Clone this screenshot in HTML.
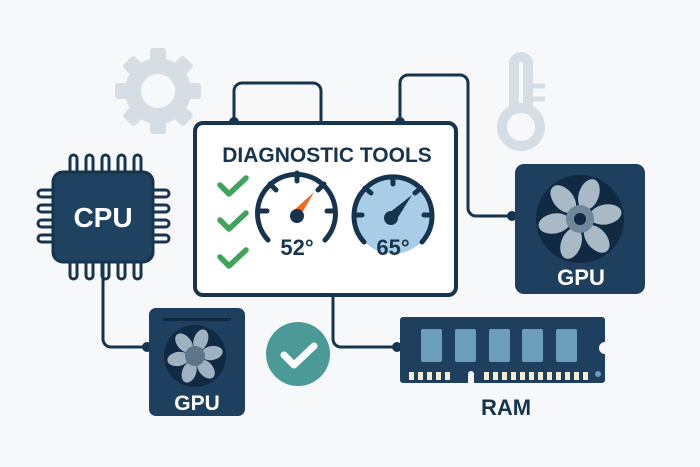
<!DOCTYPE html>
<html><head><meta charset="utf-8"><style>
html,body{margin:0;padding:0;background:#f7f8fa;}
svg{display:block;}
text{font-family:"Liberation Sans",sans-serif;font-weight:bold;}
</style></head><body>
<svg width="700" height="467" viewBox="0 0 700 467" xmlns="http://www.w3.org/2000/svg">
<rect width="700" height="467" fill="#f7f8fa"/>
<!-- gear -->
<g fill="#d6dee5" transform="translate(158,91)">
  <g id="t"><rect x="-8" y="-43" width="16" height="18" rx="3"/></g>
  <use href="#t" transform="rotate(45)"/><use href="#t" transform="rotate(90)"/><use href="#t" transform="rotate(135)"/>
  <use href="#t" transform="rotate(180)"/><use href="#t" transform="rotate(225)"/><use href="#t" transform="rotate(270)"/><use href="#t" transform="rotate(315)"/>
  <circle r="33"/>
  <circle r="17" fill="#f7f8fa"/>
</g>
<!-- thermometer -->
<g fill="none" stroke="#d6dee5" stroke-width="10">
  <path d="M514 110 V64 a7 7 0 0 1 14 0 V110"/>
  <circle cx="521" cy="127" r="19"/>
</g>
<g stroke="#d6dee5" stroke-width="5"><line x1="532" y1="86" x2="545" y2="86"/><line x1="532" y1="99" x2="545" y2="99"/></g>
<!-- wires -->
<g fill="none" stroke="#17344f" stroke-width="3">
  <path d="M234 124 V91 a8 8 0 0 1 8 -8 H313 a8 8 0 0 1 8 8 V124"/>
  <path d="M400 124 V83 a8 8 0 0 1 8 -8 H460 a8 8 0 0 1 8 8 V208 a8 8 0 0 0 8 8 H515"/>
  <path d="M333 296 V339 a8 8 0 0 0 8 8 H400"/>
  <path d="M103 262 V339 a8 8 0 0 0 8 8 H150"/>
</g>
<g fill="#17344f"><circle cx="234" cy="122" r="5"/><circle cx="400" cy="122" r="5"/><circle cx="512" cy="216" r="5"/><circle cx="397" cy="347" r="5"/><circle cx="147" cy="347" r="5"/></g>
<!-- panel -->
<rect x="195" y="123" width="261" height="172" rx="8" fill="#fff" stroke="#17344f" stroke-width="4"/>
<text x="327" y="162" font-size="21" fill="#17344f" text-anchor="middle">DIAGNOSTIC TOOLS</text>
<g fill="none" stroke="#3fa35a" stroke-width="5.5" stroke-linecap="round" stroke-linejoin="round">
  <path d="M220 185 l9 9 l17 -16"/><path d="M220 220 l9 9 l17 -16"/><path d="M220 257 l9 9 l17 -16"/>
</g>
<!-- gauge 1 -->
<g stroke="#17344f" stroke-width="5" fill="none" stroke-linecap="round">
  <path d="M268 240 A39 39 0 1 1 325 240"/>
  <line x1="297" y1="173" x2="297" y2="181"/><line x1="270" y1="184" x2="276" y2="190"/><line x1="324" y1="184" x2="318" y2="190"/>
  <line x1="259" y1="211" x2="267" y2="211"/><line x1="335" y1="211" x2="327" y2="211"/>
</g>
<polygon points="293,211 301,215 314,192" fill="#f26b21"/>
<circle cx="297" cy="216" r="7" fill="#17344f"/>
<text x="297" y="255" font-size="22" fill="#17344f" text-anchor="middle">52°</text>
<!-- gauge 2 -->
<circle cx="393" cy="215" r="39" fill="#a9cde6"/>
<g stroke="#17344f" stroke-width="5" fill="none" stroke-linecap="round">
  <path d="M364 242 A39 39 0 1 1 422 242"/>
  <line x1="393" y1="177" x2="393" y2="184"/><line x1="365" y1="188" x2="371" y2="193"/><line x1="421" y1="188" x2="415" y2="193"/>
  <line x1="355" y1="215" x2="362" y2="215"/><line x1="431" y1="215" x2="424" y2="215"/>
</g>
<polygon points="389,213 397,219 412,195" fill="#17344f"/>
<circle cx="391" cy="218" r="7" fill="#17344f"/>
<text x="393" y="255" font-size="22" fill="#17344f" text-anchor="middle">65°</text>
<!-- CPU -->
<g fill="none" stroke="#17344f" stroke-width="3">
  <g id="pv"><rect x="70" y="155" width="7" height="22" rx="3.5"/><rect x="70" y="257" width="7" height="22" rx="3.5"/></g>
  <use href="#pv" transform="translate(16,0)"/><use href="#pv" transform="translate(32,0)"/><use href="#pv" transform="translate(48,0)"/><use href="#pv" transform="translate(64,0)"/>
  <g id="ph"><rect x="38" y="190" width="22" height="7" rx="3.5"/><rect x="147" y="190" width="22" height="7" rx="3.5"/></g>
  <use href="#ph" transform="translate(0,15)"/><use href="#ph" transform="translate(0,30)"/><use href="#ph" transform="translate(0,45)"/>
</g>
<rect x="53" y="172" width="100" height="90" rx="10" fill="#1f4261" stroke="#17344f" stroke-width="3"/>
<text x="103" y="227" font-size="28" fill="#fff" text-anchor="middle">CPU</text>
<!-- small GPU -->
<rect x="149" y="308" width="96" height="108" rx="7" fill="#1f3f5e"/>
<rect x="163" y="318" width="68" height="3" fill="#0f2a42"/>
<g transform="translate(195,356)">
  <circle r="31" fill="#0f2a42"/>
  <g fill="#9fb2c2"><ellipse cx="0" cy="-17" rx="7" ry="11" transform="rotate(20)"/><ellipse cx="0" cy="-17" rx="7" ry="11" transform="rotate(80)"/><ellipse cx="0" cy="-17" rx="7" ry="11" transform="rotate(140)"/><ellipse cx="0" cy="-17" rx="7" ry="11" transform="rotate(200)"/><ellipse cx="0" cy="-17" rx="7" ry="11" transform="rotate(260)"/><ellipse cx="0" cy="-17" rx="7" ry="11" transform="rotate(320)"/></g>
  <circle r="10" fill="#5d7689"/>
</g>
<text x="197" y="410" font-size="21" fill="#fff" text-anchor="middle">GPU</text>
<!-- big GPU -->
<rect x="515" y="164" width="130" height="130" rx="9" fill="#1f3f5e"/>
<g transform="translate(580,219)">
  <circle r="44" fill="#0f2a42"/>
  <g fill="#a9b9c6"><ellipse cx="0" cy="-26" rx="10" ry="16" transform="rotate(20)"/><ellipse cx="0" cy="-26" rx="10" ry="16" transform="rotate(80)"/><ellipse cx="0" cy="-26" rx="10" ry="16" transform="rotate(140)"/><ellipse cx="0" cy="-26" rx="10" ry="16" transform="rotate(200)"/><ellipse cx="0" cy="-26" rx="10" ry="16" transform="rotate(260)"/><ellipse cx="0" cy="-26" rx="10" ry="16" transform="rotate(320)"/></g>
  <circle r="14" fill="#6e8799"/><circle r="6" fill="#0f2a42"/>
</g>
<text x="581" y="285" font-size="22" fill="#fff" text-anchor="middle">GPU</text>
<!-- check circle -->
<circle cx="298" cy="354" r="32" fill="#4b9a97"/>
<path d="M284 355 l10 10 l20 -19" fill="none" stroke="#fff" stroke-width="7" stroke-linecap="round" stroke-linejoin="round"/>
<!-- RAM -->
<path d="M400 320 a3 3 0 0 1 3 -3 H602 a3 3 0 0 1 3 3 V342 a6 6 0 0 0 0 12 V380 a3 3 0 0 1 -3 3 H474 V374 a3 3 0 0 0 -6 0 V383 H403 a3 3 0 0 1 -3 -3 Z" fill="#1f3f5e"/>
<g fill="#6b9fb9"><rect x="421" y="329" width="21" height="33" rx="2"/><rect x="455" y="329" width="21" height="33" rx="2"/><rect x="489" y="329" width="21" height="33" rx="2"/><rect x="522" y="329" width="21" height="33" rx="2"/><rect x="556" y="329" width="21" height="33" rx="2"/></g>
<g fill="#f3ecd2">
<rect x="409" y="372" width="5" height="8"/><rect x="418" y="372" width="5" height="8"/><rect x="427" y="372" width="5" height="8"/><rect x="436" y="372" width="5" height="8"/><rect x="445" y="372" width="5" height="8"/>
<rect x="484" y="372" width="5" height="8"/><rect x="493" y="372" width="5" height="8"/><rect x="502" y="372" width="5" height="8"/><rect x="511" y="372" width="5" height="8"/><rect x="520" y="372" width="5" height="8"/><rect x="529" y="372" width="5" height="8"/><rect x="538" y="372" width="5" height="8"/><rect x="547" y="372" width="5" height="8"/><rect x="556" y="372" width="5" height="8"/><rect x="565" y="372" width="5" height="8"/><rect x="574" y="372" width="5" height="8"/><rect x="583" y="372" width="5" height="8"/>
</g>
<circle cx="598" cy="374" r="3" fill="#6b9fb9"/>
<text x="506" y="415" font-size="22" fill="#17344f" text-anchor="middle">RAM</text>
</svg>
</body></html>
